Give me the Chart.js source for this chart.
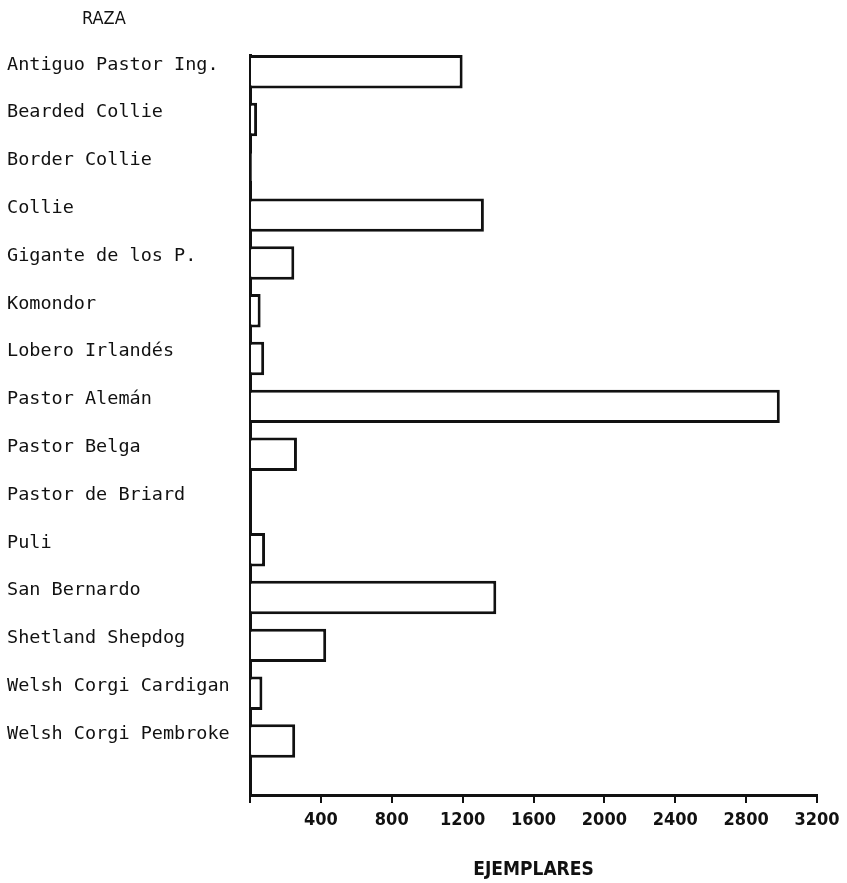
<!DOCTYPE html>
<html>
<head>
<meta charset="utf-8">
<script src="https://cdn.jsdelivr.net/npm/chart.js@4.4.1/dist/chart.umd.min.js"></script>
<style>
  html, body { margin: 0; padding: 0; background: #fff; }
  #wrap { width: 847px; height: 883px; }
</style>
</head>
<body>
<div id="wrap"><canvas id="razaChart"></canvas></div>
<script>
const razas = [
    'Antiguo Pastor Ing.', 'Bearded Collie', 'Border Collie', 'Collie',
    'Gigante de los P.', 'Komondor', 'Lobero Irlandés', 'Pastor Alemán',
    'Pastor Belga', 'Pastor de Briard', 'Puli', 'San Bernardo',
    'Shetland Shepdog', 'Welsh Corgi Cardigan', 'Welsh Corgi Pembroke'
];
const ejemplares = [1200, 40, 10, 1320, 250, 60, 80, 2990, 265, 0, 85, 1390, 430, 70, 255];
const xTicks = [400, 800, 1200, 1600, 2000, 2400, 2800, 3200];

const monoFont = '"DejaVu Sans Mono", "Liberation Mono", monospace';
const narrowFont = '"DejaVu Sans Condensed", "Liberation Sans", sans-serif';

// "RAZA" heading above the labels
const razaTitle = {
    id: 'razaTitle',
    afterDraw(chart) {
        const ctx = chart.ctx;
        ctx.save();
        ctx.font = '18px ' + narrowFont;
        ctx.fillStyle = '#111';
        ctx.textBaseline = 'middle';
        ctx.fillText('RAZA', 82, 19);
        ctx.restore();
    }
};

document.addEventListener('DOMContentLoaded', function () {
    const ctx = document.getElementById('razaChart').getContext('2d');
    new Chart(ctx, {
        type: 'bar',
        data: {
            datasets: [{
                label: 'Ejemplares',
                data: ejemplares.map((v, i) => ({ x: v, y: i })),
                backgroundColor: '#ffffff',
                borderColor: '#111111',
                borderWidth: 3,
                barPercentage: 0.7,
                categoryPercentage: 1
            }]
        },
        options: {
            indexAxis: 'y',
            responsive: true,
            maintainAspectRatio: false,
            animation: false,
            layout: { padding: { left: 7, right: 30, top: 55, bottom: 0 } },
            plugins: {
                legend: { display: false },
                title: { display: false },
                tooltip: { enabled: false }
            },
            scales: {
                y: {
                    type: 'linear',
                    reverse: true,
                    offset: false,
                    min: -0.35,
                    max: 15.13,
                    afterBuildTicks: function (scale) {
                        scale.ticks = razas.map((r, i) => ({ value: i }));
                    },
                    afterFit: function (scale) { scale.width = 243; },
                    grid: { display: false, drawTicks: false, offset: false },
                    border: { display: true, color: '#111', width: 3 },
                    ticks: {
                        crossAlign: 'far',
                        labelOffset: -7,
                        autoSkip: false,
                        color: '#111',
                        font: { family: monoFont, size: 18.5 },
                        callback: function (v) { return razas[v] !== undefined ? razas[v] : ''; }
                    }
                },
                x: {
                    type: 'linear',
                    min: 0,
                    max: 3200,
                    afterBuildTicks: function (scale) {
                        scale.ticks = [0].concat(xTicks).map(v => ({ value: v }));
                    },
                    afterFit: function (scale) { scale.height = 88; },
                    grid: {
                        display: true,
                        drawOnChartArea: false,
                        drawTicks: true,
                        tickLength: 8,
                        color: '#111',
                        lineWidth: 2
                    },
                    border: { display: true, color: '#111', width: 3 },
                    ticks: {
                        padding: 7,
                        maxRotation: 0,
                        color: '#111',
                        font: { family: narrowFont, size: 18, weight: 'bold' },
                        callback: function (v) { return v === 0 ? '' : v; }
                    },
                    title: {
                        display: true,
                        text: 'EJEMPLARES',
                        color: '#111',
                        font: { family: narrowFont, size: 19, weight: 'bold' },
                        padding: { top: 4, bottom: 2 }
                    }
                }
            }
        },
        plugins: [razaTitle]
    });
});
</script>
</body>
</html>
